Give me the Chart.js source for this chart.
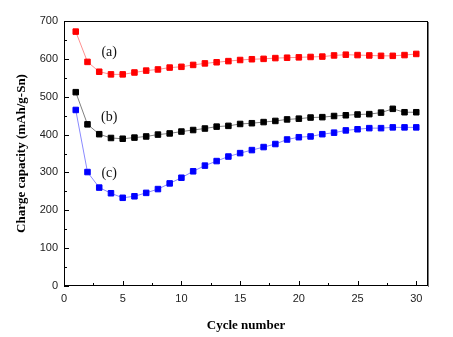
<!DOCTYPE html>
<html>
<head>
<meta charset="utf-8">
<script src="https://cdn.jsdelivr.net/npm/chart.js@4/dist/chart.umd.min.js"></script>
<style>
  html, body { margin: 0; padding: 0; background: #fff; }
  #wrap { width: 453px; height: 337px; }
</style>
</head>
<body>
<div id="wrap"><canvas id="c" width="453" height="337"></canvas></div>
<script>
// Cycle index and charge capacity (mAh/g-Sn) for the three electrodes
const cycles = [1,2,3,4,5,6,7,8,9,10,11,12,13,14,15,16,17,18,19,20,21,22,23,24,25,26,27,28,29,30];
const capacityA = [672,592,566,559,559,564,569,572,577,579,584,588,591,594,597,599,600,602,603,604,605,606,609,611,610,609,608,608,610,613];
const capacityB = [512,427,401,391,389,392,395,400,403,408,412,416,421,423,428,430,433,436,440,442,445,446,449,451,453,454,458,468,459,459];
const capacityC = [465,301,260,245,233,237,246,256,271,286,303,318,330,342,351,359,367,375,387,393,395,401,405,411,414,417,417,419,419,419];
const seriesNames = ['(a)', '(b)', '(c)'];
// where each series tag sits, in data units
const tagX = [3.85, 3.85, 3.85];
const tagY = [618, 446, 298];

const xTicks = [0,5,10,15,20,25,30];
const yTicks = [0,100,200,300,400,500,600,700];
const xMinor = [2.5,7.5,12.5,17.5,22.5,27.5];
const yMinor = [50,150,250,350,450,550,650];

const toPts = (vals) => cycles.map((c, i) => ({ x: c, y: vals[i] }));

// frame, inward tick marks and series tags
const framePlugin = {
  id: 'frame',
  afterDatasetsDraw(chart) {
    const { ctx, chartArea: a, scales: { x, y } } = chart;
    ctx.save();
    ctx.strokeStyle = '#000';
    ctx.lineWidth = 1;
    ctx.strokeRect(Math.round(a.left) + 0.5, Math.round(a.top) + 0.5,
                   Math.round(a.right - a.left) - 1, Math.round(a.bottom - a.top) - 1);
    ctx.strokeStyle = '#777';
    ctx.beginPath();
    ctx.moveTo(Math.round(a.right) + 0.5, a.top + 1);
    ctx.lineTo(Math.round(a.right) + 0.5, a.bottom + 1);
    ctx.stroke();
    ctx.strokeStyle = '#000';
    ctx.beginPath();
    const tickX = (v, len) => {
      const px = Math.round(x.getPixelForValue(v)) + 0.5;
      ctx.moveTo(px, a.bottom); ctx.lineTo(px, a.bottom - len);
    };
    const tickY = (v, len) => {
      const py = Math.round(y.getPixelForValue(v)) + 0.5;
      ctx.moveTo(a.left, py); ctx.lineTo(a.left + len, py);
    };
    xTicks.forEach(v => tickX(v, 5));
    xMinor.forEach(v => tickX(v, 3));
    yTicks.forEach(v => tickY(v, 5));
    yMinor.forEach(v => tickY(v, 3));
    ctx.stroke();
    ctx.fillStyle = '#111';
    ctx.font = '14px "Liberation Serif", "Times New Roman", serif';
    ctx.textAlign = 'center';
    ctx.textBaseline = 'middle';
    seriesNames.forEach((t, i) => {
      ctx.fillText(t, x.getPixelForValue(tagX[i]), y.getPixelForValue(tagY[i]));
    });
    ctx.restore();
  }
};

const mk = (label, vals, point, line) => ({
  label,
  data: toPts(vals),
  borderColor: line,
  borderWidth: 1,
  backgroundColor: point,
  pointStyle: 'rect',
  pointRadius: 3.9,
  pointBorderColor: point,
  pointBackgroundColor: point,
  pointBorderWidth: 1,
  tension: 0
});

new Chart(document.getElementById('c'), {
  type: 'line',
  data: {
    datasets: [
      mk(seriesNames[0], capacityA, '#ff0000', '#ff9090'),
      mk(seriesNames[1], capacityB, '#000000', '#808080'),
      mk(seriesNames[2], capacityC, '#0000ff', '#8a8aff')
    ]
  },
  options: {
    responsive: false,
    animation: false,
    devicePixelRatio: 1,
    layout: { padding: { left: 0, right: 25, top: 21, bottom: 0 } },
    plugins: { legend: { display: false }, tooltip: { enabled: false } },
    scales: {
      x: {
        type: 'linear',
        min: 0,
        max: 31,
        afterBuildTicks: (s) => { s.ticks = xTicks.map(v => ({ value: v })); },
        afterFit: (s) => { s.height = 51; },
        grid: { display: false, drawTicks: false },
        border: { display: false },
        ticks: {
          padding: 6,
          color: '#222',
          font: { family: '"Liberation Sans", Arial, sans-serif', size: 11 },
          maxRotation: 0,
          autoSkip: false
        },
        title: {
          display: true,
          text: 'Cycle number',
          color: '#000',
          padding: { top: 0, bottom: 4 },
          font: { family: '"Liberation Serif", "Times New Roman", serif', size: 13, weight: 'bold' }
        }
      },
      y: {
        type: 'linear',
        min: 0,
        max: 700,
        afterBuildTicks: (s) => { s.ticks = yTicks.map(v => ({ value: v })); },
        afterFit: (s) => { s.width = 64; },
        grid: { display: false, drawTicks: false },
        border: { display: false },
        ticks: {
          padding: 6,
          color: '#222',
          font: { family: '"Liberation Sans", Arial, sans-serif', size: 11 },
          autoSkip: false
        },
        title: {
          display: true,
          text: 'Charge capacity (mAh/g-Sn)',
          color: '#000',
          padding: { top: 14, bottom: 0 },
          font: { family: '"Liberation Serif", "Times New Roman", serif', size: 13, weight: 'bold' }
        }
      }
    }
  },
  plugins: [framePlugin]
});
</script>
</body>
</html>
